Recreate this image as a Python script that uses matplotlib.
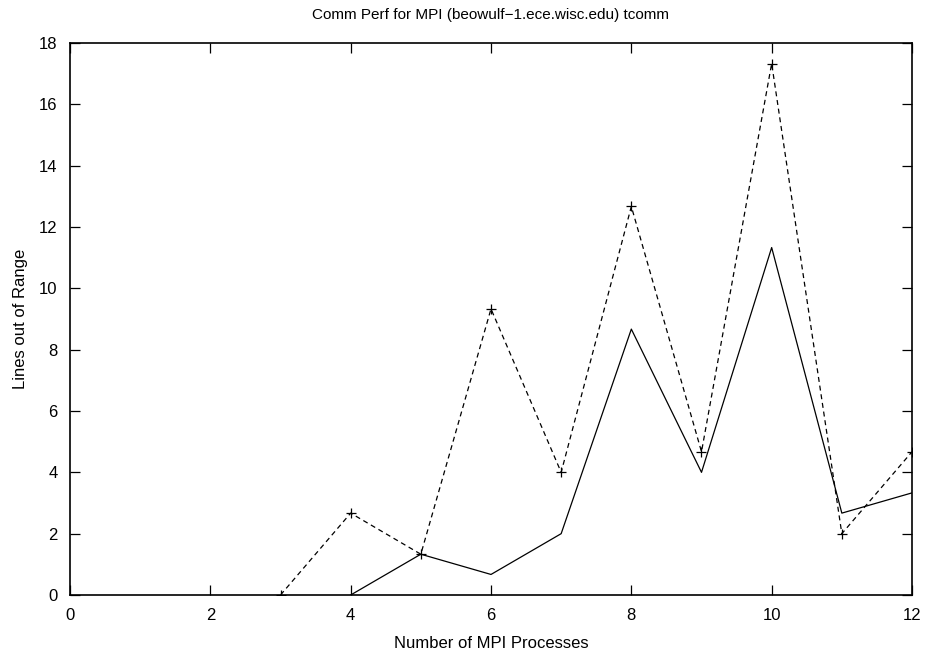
import matplotlib
matplotlib.use('Agg')
from matplotlib import pyplot as plt

# data
procs_dashed = [3, 4, 5, 6, 7, 8, 9, 10, 11, 12]
lines_dashed = [0, 2.67, 1.33, 9.33, 4.0, 12.67, 4.67, 17.33, 2.0, 4.67]
procs_solid = [4, 5, 6, 7, 8, 9, 10, 11, 12]
lines_solid = [0, 1.33, 0.67, 2.0, 8.67, 4.0, 11.33, 2.67, 3.33]
xticks = [0, 2, 4, 6, 8, 10, 12]
yticks = [0, 2, 4, 6, 8, 10, 12, 14, 16, 18]

plt.rcParams['font.family'] = ['Liberation Sans', 'DejaVu Sans']
plt.rcParams['font.size'] = 12

fig = plt.figure(figsize=(9.26, 6.56), dpi=100)
ax = fig.add_axes([70/926, 1 - 595/656, (912-70)/926, (595-43)/656])

ax.plot(procs_solid, lines_solid, color='black', lw=0.9)
ax.plot(procs_dashed, lines_dashed, color='black', lw=0.9, linestyle=(0, (4, 3)),
        marker='+', markersize=7, markeredgewidth=0.9)

ax.set_xlim(0, 12)
ax.set_ylim(0, 18)
ax.set_xticks(xticks)
ax.set_yticks(yticks)
ax.tick_params(direction='in', top=True, right=True, length=7, width=0.9, pad=9)
for s in ax.spines.values():
    s.set_linewidth(1.2)

ax.set_title('Comm Perf for MPI (beowulf\u22121.ece.wisc.edu) tcomm', fontsize=11, pad=17)
ax.set_xlabel('Number of MPI Processes', labelpad=10)
ax.set_ylabel('Lines out of Range', labelpad=8)

fig.savefig('out.png', dpi=100)
